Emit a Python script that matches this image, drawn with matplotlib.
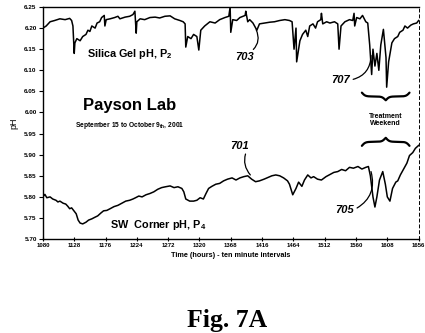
import matplotlib
matplotlib.use('Agg')
import matplotlib.pyplot as plt
import numpy as np

# Silica gel probe, P2 (hours, pH)
p2_hours = [1080, 1085, 1091, 1098, 1106, 1114, 1121, 1124, 1126, 1128, 1129, 1132,
            1137, 1141, 1146, 1149, 1152, 1155, 1160, 1163, 1167, 1170, 1174, 1175,
            1177, 1183, 1190, 1195, 1198, 1206, 1213, 1218, 1221, 1223, 1224, 1229,
            1236, 1244, 1252, 1259, 1267, 1275, 1282, 1290, 1295, 1298, 1299, 1302,
            1307, 1311, 1316, 1319, 1322, 1328, 1336, 1344, 1351, 1359, 1365, 1367,
            1368, 1371, 1377, 1382, 1390, 1391, 1394, 1397, 1402, 1408, 1412, 1420,
            1428, 1435, 1443, 1451, 1458, 1462, 1465, 1468, 1469, 1474, 1478, 1483,
            1486, 1489, 1494, 1498, 1501, 1506, 1507, 1509, 1515, 1520, 1527, 1532,
            1534, 1537, 1543, 1550, 1555, 1557, 1558, 1561, 1566, 1570, 1575, 1578,
            1581, 1584, 1586, 1589, 1592, 1595, 1598, 1602, 1606, 1607, 1610, 1615,
            1619, 1624, 1627, 1632, 1635, 1639, 1644, 1648, 1653, 1656]
p2_ph = [6.200, 6.205, 6.215, 6.218, 6.222, 6.220, 6.223, 6.218, 6.205, 6.140, 6.165, 6.175,
         6.170, 6.180, 6.185, 6.195, 6.192, 6.205, 6.200, 6.212, 6.215, 6.225, 6.230, 6.205,
         6.220, 6.222, 6.225, 6.228, 6.222, 6.226, 6.228, 6.232, 6.240, 6.188, 6.215, 6.222,
         6.220, 6.225, 6.226, 6.224, 6.228, 6.229, 6.222, 6.218, 6.215, 6.210, 6.155, 6.180,
         6.175, 6.185, 6.180, 6.148, 6.195, 6.205, 6.215, 6.212, 6.220, 6.225, 6.228, 6.250,
         6.190, 6.220, 6.218, 6.225, 6.230, 6.240, 6.215, 6.220, 6.212, 6.195, 6.210, 6.212,
         6.214, 6.215, 6.218, 6.220, 6.218, 6.215, 6.150, 6.200, 6.120, 6.170, 6.185, 6.195,
         6.180, 6.205, 6.210, 6.200, 6.215, 6.220, 6.235, 6.210, 6.215, 6.212, 6.215, 6.210,
         6.150, 6.205, 6.215, 6.220, 6.218, 6.235, 6.205, 6.225, 6.222, 6.230, 6.215, 6.212,
         6.160, 6.090, 6.150, 6.110, 6.140, 6.100, 6.160, 6.197, 6.130, 6.060, 6.120, 6.165,
         6.175, 6.180, 6.190, 6.195, 6.205, 6.200, 6.207, 6.210, 6.212, 6.218]

# SW corner probe, P4 (hours, pH)
p4_hours = [1080, 1083, 1086, 1091, 1095, 1100, 1103, 1106, 1111, 1115, 1118, 1121,
            1124, 1127, 1131, 1134, 1137, 1141, 1146, 1150, 1155, 1160, 1164, 1169,
            1173, 1178, 1183, 1189, 1195, 1201, 1207, 1213, 1218, 1222, 1227, 1232,
            1238, 1244, 1250, 1256, 1262, 1268, 1275, 1281, 1287, 1293, 1296, 1299,
            1305, 1311, 1316, 1321, 1326, 1330, 1334, 1339, 1345, 1351, 1357, 1363,
            1370, 1376, 1382, 1388, 1394, 1400, 1406, 1412, 1419, 1425, 1431, 1437,
            1443, 1449, 1455, 1458, 1463, 1468, 1472, 1477, 1481, 1486, 1491, 1495,
            1501, 1507, 1514, 1520, 1526, 1532, 1538, 1544, 1550, 1556, 1563, 1569,
            1575, 1579, 1582, 1586, 1589, 1592, 1596, 1601, 1605, 1608, 1612, 1616,
            1621, 1624, 1628, 1633, 1638, 1642, 1647, 1651, 1656]
p4_ph = [5.800, 5.806, 5.798, 5.800, 5.795, 5.792, 5.788, 5.790, 5.785, 5.783, 5.778, 5.772,
         5.774, 5.768, 5.760, 5.745, 5.738, 5.736, 5.740, 5.745, 5.748, 5.752, 5.755, 5.762,
         5.767, 5.768, 5.772, 5.777, 5.780, 5.785, 5.790, 5.792, 5.795, 5.798, 5.802, 5.800,
         5.805, 5.808, 5.812, 5.818, 5.822, 5.824, 5.826, 5.822, 5.824, 5.820, 5.812, 5.795,
         5.790, 5.790, 5.792, 5.798, 5.795, 5.808, 5.820, 5.825, 5.830, 5.832, 5.838, 5.842,
         5.845, 5.840, 5.845, 5.848, 5.850, 5.842, 5.836, 5.838, 5.842, 5.846, 5.850, 5.852,
         5.850, 5.845, 5.838, 5.830, 5.805, 5.820, 5.835, 5.825, 5.840, 5.852, 5.845, 5.848,
         5.842, 5.840, 5.848, 5.853, 5.858, 5.860, 5.865, 5.862, 5.870, 5.868, 5.872, 5.866,
         5.870, 5.872, 5.850, 5.800, 5.776, 5.800, 5.840, 5.860, 5.830, 5.800, 5.790, 5.820,
         5.835, 5.838, 5.852, 5.866, 5.880, 5.898, 5.905, 5.915, 5.922]

x_ticks = [1080, 1128, 1176, 1224, 1272, 1320, 1368, 1416, 1464, 1512, 1560, 1608, 1656]
y_ticks = [5.70, 5.75, 5.80, 5.85, 5.90, 5.95, 6.00, 6.05, 6.10, 6.15, 6.20, 6.25]

# treatment weekend span (hours)
treat_start, treat_end = 1569, 1642


def curly_brace(ax, x0, x1, y_ends, y_tip):
    # smooth brace from x0 to x1, ends at y_ends, centre tip at y_tip
    half = np.linspace(0, 0.5, 120)
    beta = 28.0
    shape = 1 / (1 + np.exp(-beta * (half - half[0]))) + 1 / (1 + np.exp(-beta * (half - half[-1])))
    shape = shape - shape[0]
    shape = shape / shape[-1]
    shape = np.concatenate([shape, shape[::-1]])
    xs = np.linspace(x0, x1, shape.size)
    ax.plot(xs, y_ends + (y_tip - y_ends) * shape, color='black', lw=1.6, solid_capstyle='round')


plt.rcParams['font.family'] = ['Liberation Sans', 'DejaVu Sans']
plt.rcParams['mathtext.fontset'] = 'custom'
plt.rcParams['mathtext.rm'] = 'Liberation Sans:bold'
plt.rcParams['mathtext.it'] = 'Liberation Sans:bold'

fig = plt.figure(figsize=(4.25, 3.33), dpi=100)
ax = fig.add_axes([0.101, 0.282, 0.884, 0.697])

ax.plot(p2_hours, p2_ph, color='black', lw=1.1)
ax.plot(p4_hours, p4_ph, color='black', lw=1.1)

ax.set_xlim(1080, 1656)
ax.set_ylim(5.70, 6.25)
ax.set_xticks(x_ticks)
ax.set_yticks(y_ticks)
ax.set_xticklabels([str(t) for t in x_ticks], fontsize=4.3, fontweight='bold')
ax.set_yticklabels(['%.2f' % t for t in y_ticks], fontsize=4.6, fontweight='bold')
ax.tick_params(axis='x', direction='inout', length=3, width=0.8, pad=1.5)
ax.tick_params(axis='y', direction='out', length=3, width=0.8, pad=1.5)
for side in ['left', 'bottom', 'top']:
    ax.spines[side].set_linewidth(1.0)
ax.spines['right'].set_linewidth(0.7)
ax.spines['right'].set_linestyle((0, (3, 3)))

ax.set_xlabel('Time (hours) - ten minute intervals', fontsize=5.2, fontweight='bold', labelpad=3)
ax.set_ylabel('pH', fontsize=6.5, labelpad=4)

ax.text(1213, 6.138, 'Silica Gel pH, P$_2$', fontsize=7.8, fontweight='bold', ha='center', va='center')
ax.text(1213, 6.016, 'Payson Lab', fontsize=12, fontweight='bold', ha='center', va='center')
ax.text(1213, 5.970, 'September 15 to October 9$_{th}$, 2001', fontsize=4.8, fontweight='bold',
        ha='center', va='center')
ax.text(1256, 5.733, 'SW  Corner pH, P$_4$', fontsize=7.8, fontweight='bold', ha='center', va='center')

ax.text(1605, 5.983, 'Treatment\nWeekend', fontsize=5, fontweight='bold', ha='center', va='center',
        linespacing=1.0)
curly_brace(ax, treat_start, treat_end, 6.047, 6.029)
curly_brace(ax, treat_start, treat_end, 5.921, 5.940)

lbl = dict(fontsize=8, style='italic', fontweight='bold', ha='center', va='center')
arr = dict(arrowstyle='-', color='black', lw=0.9, shrinkA=0, shrinkB=0)
ax.annotate('703', xy=(1407, 6.196), xytext=(1389, 6.131), **lbl,
            arrowprops=dict(arr, connectionstyle='arc3,rad=0.4', relpos=(0.8, 1.0)))
ax.annotate('707', xy=(1583, 6.135), xytext=(1537, 6.077), **lbl,
            arrowprops=dict(arr, connectionstyle='arc3,rad=0.4', relpos=(1.0, 0.5)))
ax.annotate('701', xy=(1398, 5.852), xytext=(1382, 5.920), **lbl,
            arrowprops=dict(arr, connectionstyle='arc3,rad=0.3', relpos=(0.85, 0.0)))
ax.annotate('705', xy=(1583, 5.860), xytext=(1543, 5.770), **lbl,
            arrowprops=dict(arr, connectionstyle='arc3,rad=0.4', relpos=(1.0, 0.5)))

fig.text(0.535, 0.018, 'Fig. 7A', fontsize=18.5, fontweight='bold', family='Liberation Serif',
         ha='center', va='baseline')

fig.savefig('out.png', dpi=100)
